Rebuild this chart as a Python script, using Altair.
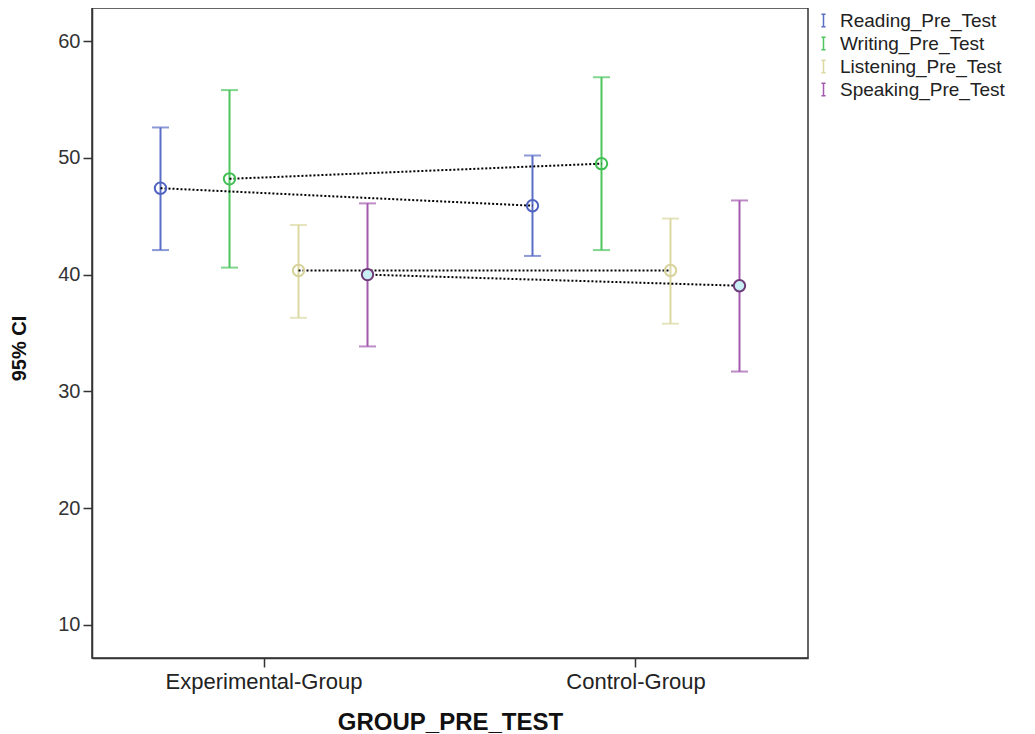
import altair as alt
import pandas as pd

groups = ["Experimental-Group", "Control-Group"]
series = ["Reading_Pre_Test", "Writing_Pre_Test", "Listening_Pre_Test", "Speaking_Pre_Test"]

# values per series: [Experimental, Control]
means = {
    "Reading_Pre_Test": [47.4, 45.9],
    "Writing_Pre_Test": [48.2, 49.5],
    "Listening_Pre_Test": [40.35, 40.35],
    "Speaking_Pre_Test": [40.0, 39.05],
}
lowers = {
    "Reading_Pre_Test": [42.1, 41.6],
    "Writing_Pre_Test": [40.6, 42.1],
    "Listening_Pre_Test": [36.3, 35.8],
    "Speaking_Pre_Test": [33.85, 31.7],
}
uppers = {
    "Reading_Pre_Test": [52.6, 50.2],
    "Writing_Pre_Test": [55.8, 56.9],
    "Listening_Pre_Test": [44.25, 44.8],
    "Speaking_Pre_Test": [46.1, 46.35],
}

colors = ["#5b6ec6", "#4cc55c", "#dcd8a2", "#a35aae"]
marker_strokes = ["#4f63c0", "#3fbf52", "#d6d29a", "#6e3a78"]
marker_fills = ["transparent", "transparent", "transparent", "#c9eef3"]

rows = []
for s in series:
    for i, g in enumerate(groups):
        rows.append({"group": g, "series": s, "mean": means[s][i],
                     "lower": lowers[s][i], "upper": uppers[s][i]})
df = pd.DataFrame(rows)

FONT = "Liberation Sans"

x_enc = alt.X("group:N", sort=groups,
              scale=alt.Scale(paddingInner=0.258, paddingOuter=0.0914),
              axis=alt.Axis(title="GROUP_PRE_TEST", labelAngle=0, labelFontSize=22,
                            labelFont=FONT, labelColor="#222", labelPadding=4, labelLimit=0,
                            tickSize=9, tickColor="#333", tickWidth=1.5,
                            domainColor="#333", domainWidth=1.5,
                            titleFont=FONT, titleFontSize=24, titleFontWeight="bold",
                            titleColor="#111", titleY=71, titleBaseline="alphabetic"))
xo_enc = alt.XOffset("series:N", sort=series,
                     scale=alt.Scale(paddingInner=0, paddingOuter=0))
y_scale = alt.Scale(domain=[7.17, 62.83], nice=False, zero=False)
y_axis = alt.Axis(title="95% CI", values=[10, 20, 30, 40, 50, 60], grid=False,
                  labelFontSize=20, labelFont=FONT, labelColor="#333", labelPadding=3,
                  tickSize=9, tickColor="#333", tickWidth=1.5,
                  domainColor="#333", domainWidth=1.5,
                  titleFont=FONT, titleFontSize=20, titleFontWeight="bold",
                  titleColor="#111", titleX=-63, titleY=340)

color_enc = alt.Color("series:N", sort=series,
                      scale=alt.Scale(domain=series, range=colors),
                      legend=alt.Legend(title=None, orient="none", legendX=722, legendY=3,
                                        labelFont=FONT, labelFontSize=19, labelColor="#222",
                                        labelLimit=0,
                                        symbolType="M-0.3,-0.9H0.3M0,-0.9V0.9M-0.3,0.9H0.3",
                                        symbolSize=190, symbolStrokeWidth=1.5,
                                        symbolFillColor="transparent",
                                        rowPadding=3, labelOffset=7))

base = alt.Chart(df)

rules = base.mark_rule(strokeWidth=2).encode(
    x=x_enc, xOffset=xo_enc,
    y=alt.Y("lower:Q", scale=y_scale, axis=y_axis), y2="upper:Q",
    color=color_enc)

caps_lo = base.mark_tick(size=17, thickness=2).encode(
    x=x_enc, xOffset=xo_enc, y=alt.Y("lower:Q", scale=y_scale),
    color=alt.Color("series:N", sort=series, scale=alt.Scale(domain=series, range=colors), legend=None))
caps_hi = base.mark_tick(size=17, thickness=2).encode(
    x=x_enc, xOffset=xo_enc, y=alt.Y("upper:Q", scale=y_scale),
    color=alt.Color("series:N", sort=series, scale=alt.Scale(domain=series, range=colors), legend=None))

lines = base.mark_line(color="#000", strokeDash=[2, 2], strokeWidth=2).encode(
    x=x_enc, xOffset=xo_enc, y=alt.Y("mean:Q", scale=y_scale), detail="series:N")

points = base.mark_point(shape="circle", size=130, strokeWidth=2, opacity=1).encode(
    x=x_enc, xOffset=xo_enc, y=alt.Y("mean:Q", scale=y_scale),
    stroke=alt.Stroke("series:N", sort=series,
                      scale=alt.Scale(domain=series, range=marker_strokes), legend=None),
    fill=alt.Fill("series:N", sort=series,
                  scale=alt.Scale(domain=series, range=marker_fills), legend=None))

chart = alt.layer(rules, caps_lo, caps_hi, lines, points).resolve_scale(
    stroke="independent", fill="independent"
).properties(
    width=716, height=650,
    autosize=alt.AutoSizeParams(type="none"),
    padding={"left": 84, "top": 0, "right": 219, "bottom": 76},
    background="white",
).configure_view(stroke="#333", strokeWidth=1.5)

chart.save("out.html", embed_options={"renderer": "svg", "actions": False})
